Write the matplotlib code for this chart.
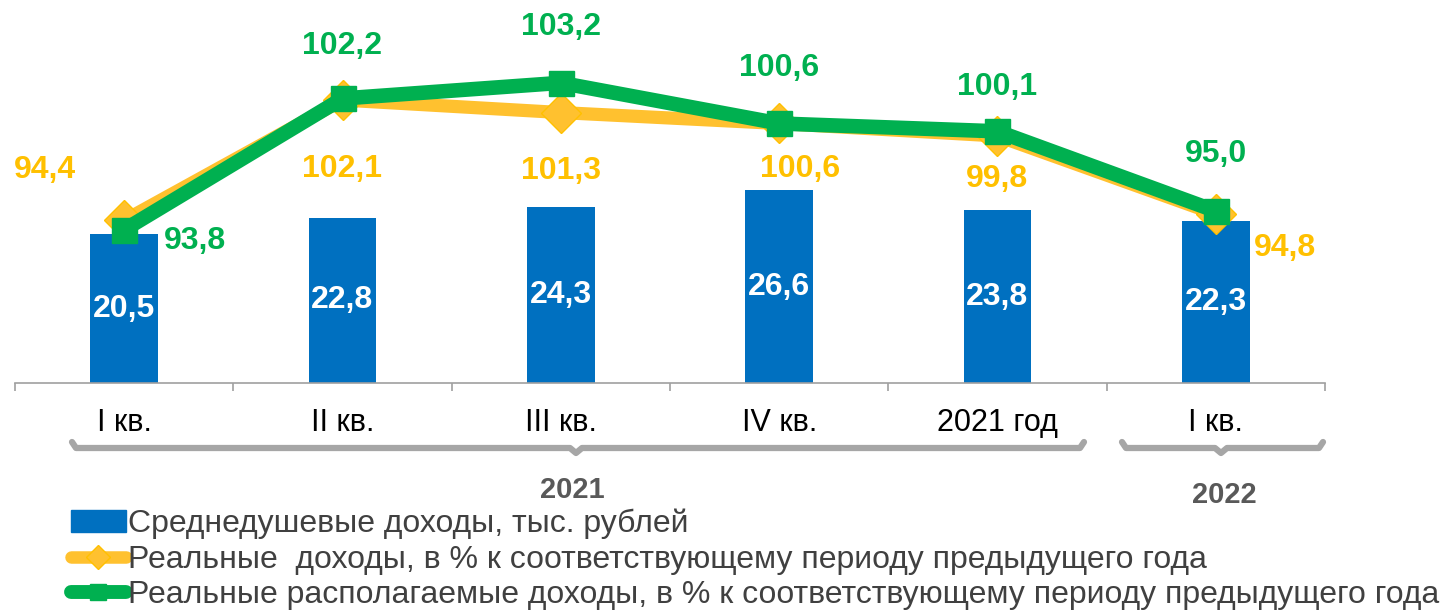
import matplotlib.pyplot as plt
from matplotlib.lines import Line2D
from matplotlib.patches import Patch
import numpy as np

plt.rcParams['font.family'] = ['Liberation Sans', 'DejaVu Sans']

categories = ['I кв.', 'II кв.', 'III кв.', 'IV кв.', '2021 год', 'I кв.']
income = [20.5, 22.8, 24.3, 26.6, 23.8, 22.3]
real_income = [94.4, 102.1, 101.3, 100.6, 99.8, 94.8]
real_disp = [93.8, 102.2, 103.2, 100.6, 100.1, 95.0]
groups = ['2021', '2022']

# label offsets in pixels (dx, dy)
real_off = [(-79, 50), (0, -69), (0, -58), (21, -46), (0, -43), (69, -34)]
disp_off = [(71, -11), (0, 52), (0, 56), (0, 55), (0, 44), (0, 57)]

blue = '#0070C0'
orange = '#FFC12F'
orange_txt = '#FFC000'
green = '#00B050'
grey = '#A6A6A6'

W, H = 1440, 613
fig = plt.figure(figsize=(W / 100, H / 100), dpi=100)


def fx(px):
    return px / W


def fy(py):
    return 1 - py / H


ax = fig.add_axes([fx(15), fy(383), fx(1325) - fx(15), fy(0) - fy(383)])
x = np.arange(len(categories))

ax.bar(x, income, width=0.31, color=blue, zorder=2)
for xi, v in zip(x, income):
    ax.text(xi, v / 2, f'{v:.1f}'.replace('.', ','), ha='center', va='center',
            color='white', fontsize=23, fontweight='bold', zorder=3)
ax.set_ylim(0, 383 / 7.25)
ax.set_xlim(-0.5, len(categories) - 0.5)

ax2 = ax.twinx()
ax2.set_ylim(84.0, 108.5)
ax2.plot(x, real_income, color=orange, lw=9.5, marker='D', ms=20,
         mfc=orange, mec=orange_txt, zorder=3)
ax2.plot(x, real_disp, color=green, lw=10.5, marker='s', ms=18,
         mfc=green, mec=green, zorder=4)
for xi, v, (dx, dy) in zip(x, real_income, real_off):
    ax2.annotate(f'{v:.1f}'.replace('.', ','), (xi, v), xytext=(dx, dy),
                 textcoords='offset pixels', ha='center', va='center',
                 color=orange_txt, fontsize=23, fontweight='bold')
for xi, v, (dx, dy) in zip(x, real_disp, disp_off):
    ax2.annotate(f'{v:.1f}'.replace('.', ','), (xi, v), xytext=(dx, dy),
                 textcoords='offset pixels', ha='center', va='center',
                 color=green, fontsize=23, fontweight='bold')

for a in (ax, ax2):
    for s in ['top', 'right', 'left']:
        a.spines[s].set_visible(False)
    a.set_yticks([])
ax2.spines['bottom'].set_visible(False)
ax.spines['bottom'].set_color('#A0A0A0')
ax.spines['bottom'].set_linewidth(1.2)
ax.set_xticks(np.arange(-0.5, len(categories)), minor=False)
ax.set_xticklabels([])
ax.tick_params(axis='x', length=6, color='#A0A0A0', width=1.2)
for xi, c in zip(x, categories):
    ax.text(xi, -0.105, c, transform=ax.get_xaxis_transform(), ha='center',
            va='center', fontsize=22, color='black')

# group brackets under category labels
def bracket(x0, x1, xm, y=448):
    xs = [x0, x0 + 4, xm - 6, xm, xm + 6, x1 - 4, x1]
    ys = [y - 6, y, y, y + 5, y, y, y - 6]
    fig.add_artist(Line2D([fx(v) for v in xs], [fy(v) for v in ys],
                          color=grey, lw=4.5, solid_capstyle='round',
                          solid_joinstyle='round'))


bracket(72, 1084, 576)
bracket(1122, 1323, 1221)
fig.text(fx(572), fy(490), groups[0], ha='center', va='center', fontsize=21,
         fontweight='bold', color='#595959')
fig.text(fx(1224), fy(495), groups[1], ha='center', va='center', fontsize=21,
         fontweight='bold', color='#595959')

handles = [
    Patch(facecolor=blue, edgecolor=blue),
    Line2D([], [], color=orange, lw=9, marker='D', ms=12, mfc=orange, mec=orange_txt,
           solid_capstyle='round'),
    Line2D([], [], color=green, lw=10, marker='s', ms=12, mfc=green, mec=green,
           solid_capstyle='round'),
]
labels = ['Среднедушевые доходы, тыс. рублей',
          'Реальные  доходы, в % к соответствующему периоду предыдущего года',
          'Реальные располагаемые доходы, в % к соответствующему периоду предыдущего года']
leg = fig.legend(handles, labels, loc='upper left', bbox_to_anchor=(fx(55), fy(493)),
                 frameon=False, fontsize=23, handlelength=1.72, handletextpad=0.05,
                 labelspacing=0.17, borderpad=0, labelcolor='#404040')

fig.savefig('out.png', dpi=100)
